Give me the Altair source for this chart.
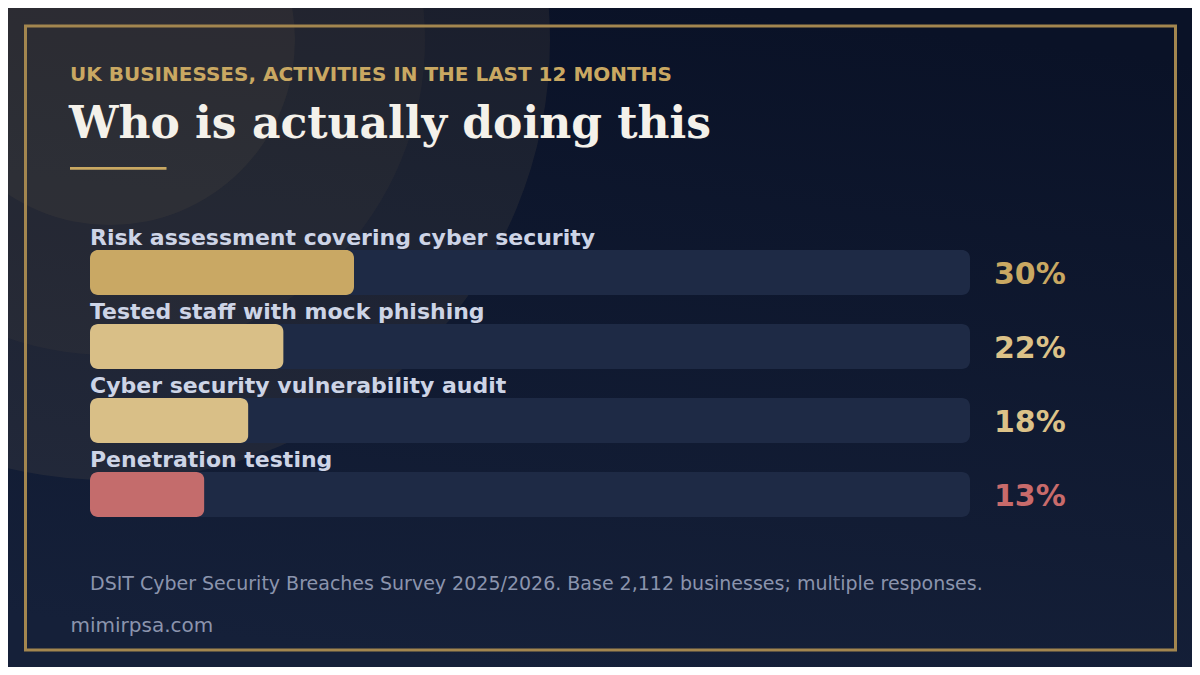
import pandas as pd
import altair as alt

# chart area sits 8px inside the page, so positions below are page px minus 8
W, H = 1184, 659

labels = ['Risk assessment covering cyber security',
          'Tested staff with mock phishing',
          'Cyber security vulnerability audit',
          'Penetration testing']
values = [30, 22, 18, 13]
bar_colors = ['#c9a864', '#d9bf87', '#d9bf87', '#c46c6c']
pct_colors = ['#c9a862', '#dcc288', '#dcc288', '#c86b6b']

df = pd.DataFrame({
    'label': labels,
    'value': values,
    'full': [100] * len(labels),
    'pct': [f'{v}%' for v in values],
    'bar_color': bar_colors,
    'pct_color': pct_colors,
})
one = pd.DataFrame({'k': [0]})

x_scale = alt.Scale(domain=[0, 100], range=[82, 962])
y_scale = alt.Scale(domain=labels, range=[242, 509], paddingInner=0.392, paddingOuter=0)
y_enc = alt.Y('label:N', sort=labels, scale=y_scale, axis=None)

# background gradient
bg = alt.Chart(one).mark_rect(
    color=alt.LinearGradient(
        gradient='linear',
        stops=[alt.GradientStop(color='#0a1227', offset=0),
               alt.GradientStop(color='#152039', offset=1)],
        x1=0.6, y1=0, x2=0.4, y2=1)
).encode(x=alt.value(0), x2=alt.value(W), y=alt.value(0), y2=alt.value(H))


# soft decorative circles top-left
def circle(r, op):
    return alt.Chart(one).mark_circle(color='#c9a864', opacity=op, size=(2 * r) ** 2).encode(
        x=alt.value(102), y=alt.value(32))


circles = circle(440, 0.085) + circle(315, 0.045) + circle(185, 0.06)

border = alt.Chart(one).mark_rect(filled=False, stroke='#a3864f', strokeWidth=3).encode(
    x=alt.value(17.5), x2=alt.value(1167.5), y=alt.value(18), y2=alt.value(642))


def txt(s, x, y, size, color, font='DejaVu Sans', weight='normal'):
    return alt.Chart(one).mark_text(
        text=s, align='left', baseline='alphabetic', font=font, fontSize=size,
        fontWeight=weight, color=color
    ).encode(x=alt.value(x), y=alt.value(y))


subtitle = txt('UK BUSINESSES, ACTIVITIES IN THE LAST 12 MONTHS', 62, 72.7, 20, '#c9a862', weight='bold')
title = txt('Who is actually doing this', 61, 130.3, 44, '#f4f1ea', font='DejaVu Serif', weight='bold')
underline = alt.Chart(one).mark_rect(color='#c9a862').encode(
    x=alt.value(62), x2=alt.value(158.5), y=alt.value(159), y2=alt.value(161.7))
footer = txt('DSIT Cyber Security Breaches Survey 2025/2026. Base 2,112 businesses; multiple responses.',
             82, 581.7, 19, '#8b94ad')
site = txt('mimirpsa.com', 62.5, 623.7, 20, '#8b94ad')

track = alt.Chart(df).mark_bar(color='#1e2a45', cornerRadius=8).encode(
    x=alt.X('full:Q', scale=x_scale, axis=None), y=y_enc)
bars = alt.Chart(df).mark_bar(cornerRadius=8).encode(
    x=alt.X('value:Q', scale=x_scale, axis=None), y=y_enc,
    color=alt.Color('bar_color:N', scale=None))
names = alt.Chart(df).mark_text(
    align='left', baseline='alphabetic', dy=-27.2, font='DejaVu Sans', fontWeight='bold',
    fontSize=22, color='#cdd4e6'
).encode(x=alt.value(82), y=y_enc, text='label:N')
pcts = alt.Chart(df).mark_text(
    align='left', baseline='alphabetic', dy=11.5, font='DejaVu Sans', fontWeight='bold',
    fontSize=30
).encode(x=alt.value(986), y=y_enc, text='pct:N', color=alt.Color('pct_color:N', scale=None))

chart = alt.layer(
    bg, circles, border, subtitle, title, underline, track, bars, names, pcts, footer, site
).properties(
    width=W, height=H, autosize=alt.AutoSizeParams(type='none'), padding=0,
    background='#0c1428'
).configure_view(strokeWidth=0)

chart.save("out.html", embed_options={"renderer": "svg", "actions": False})
